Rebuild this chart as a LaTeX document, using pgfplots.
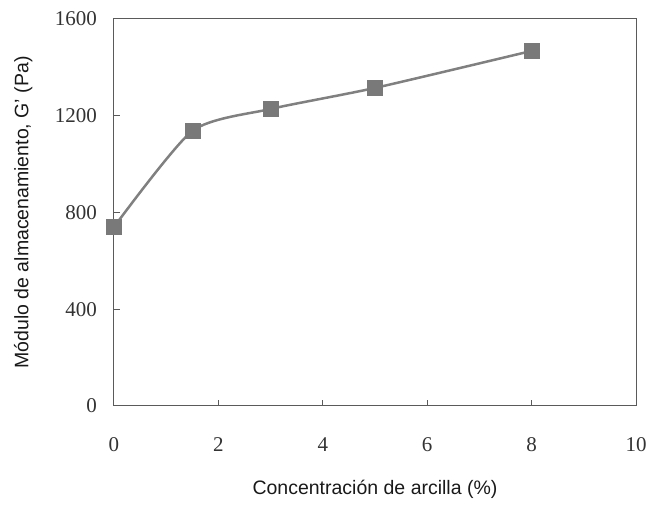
\documentclass[border=0pt]{standalone}
\usepackage{pgfplots}
\pgfplotsset{compat=1.18}
\usepackage{fontspec}
\setmainfont{Liberation Serif}
\newfontfamily\labelfont{Liberation Sans}
\definecolor{axgray}{HTML}{5A5A5A}
\definecolor{lngray}{HTML}{808080}
\definecolor{mkgray}{HTML}{797979}
\begin{document}
\begin{tikzpicture}
\useasboundingbox (0pt,0pt) rectangle (649pt,505pt);
\begin{axis}[
  at={(114pt,99pt)}, anchor=south west,
  scale only axis, width=522pt, height=387pt,
  xmin=0, xmax=10, ymin=0, ymax=1600,
  xtick={0,2,4,6,8,10}, ytick={0,400,800,1200,1600},
  axis line style={axgray, line width=1pt},
  tick style={axgray, line width=1pt},
  tick align=inside, major tick length=6pt,
  xtick pos=bottom, ytick pos=left,
  /pgf/number format/assume math mode=true,
  /pgf/number format/1000 sep={},
  ticklabel style={font=\fontsize{21}{23}\selectfont, text=black!80},
  xticklabel style={anchor=center, inner sep=0pt, yshift=-39pt},
  yticklabel style={anchor=east, inner sep=0pt, xshift=-17pt},
  xlabel={Concentración de arcilla (\%)},
  ylabel={Módulo de almacenamiento, G’ (Pa)},
  label style={font=\labelfont\fontsize{19.5}{22}\selectfont, text=black!90},
  xlabel style={at={(axis description cs:0.5,-0.2145)}, anchor=center},
  ylabel style={at={(axis description cs:-0.174,0.5)}, anchor=center},
  clip=false,
]
\addplot[smooth, tension=0.4, color=lngray, line width=2.5pt,
  mark=square*, mark size=7.5pt, mark options={fill=mkgray, draw=mkgray, line width=0.5pt}]
  coordinates {(0,740) (1.5,1137) (3,1228) (5,1315) (8,1468)};
\end{axis}
\end{tikzpicture}
\end{document}
